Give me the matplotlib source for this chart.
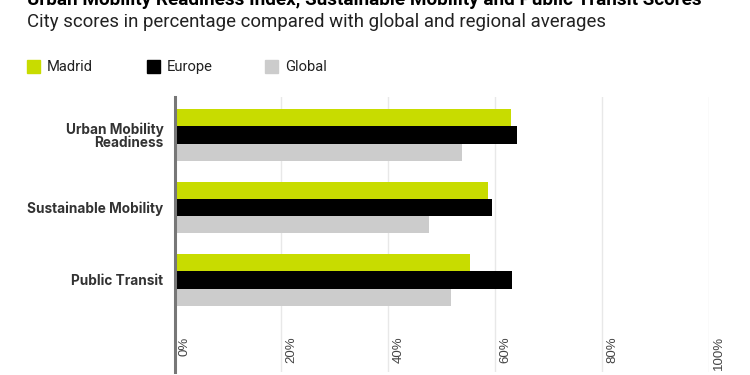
import matplotlib
matplotlib.use("Agg")
import matplotlib.pyplot as plt
import matplotlib.transforms as mtransforms
import numpy as np

categories = ["Urban Mobility\nReadiness", "Sustainable Mobility", "Public Transit"]
series_names = ["Madrid", "Europe", "Global"]
madrid = [63.0, 58.6, 55.2]
europe = [64.1, 59.4, 63.1]
glob = [53.8, 47.6, 51.7]
ticks = [0, 20, 40, 60, 80, 100]
tick_labels = ["0%", "20%", "40%", "60%", "80%", "100%"]

colors = ["#c8dc00", "#000000", "#cccccc"]

fig = plt.figure(figsize=(7.5, 3.75), dpi=100)
ax = fig.add_axes([0.2327, 0.008, 0.7126, 0.7333])

y = np.arange(len(categories))
h = 0.238
for i, (vals, c) in enumerate(zip([madrid, europe, glob], colors)):
    ax.barh(y + (i - 1) * h, vals, height=h, color=c, zorder=3)

ax.set_xlim(0, 100)
ax.set_ylim(3.27, -0.524)
ax.set_xticks(ticks)
ax.set_xticklabels([])
ax.tick_params(axis="x", length=0)
ax.grid(axis="x", color="#e8e8e8", linewidth=1.0, zorder=0)
ax.set_yticks(y)
ax.set_yticklabels(categories, fontsize=9.8, fontweight="bold", color="#333333",
                   family="Inter", linespacing=0.95)
ax.tick_params(axis="y", length=0, pad=8)
for s in ["top", "right", "bottom"]:
    ax.spines[s].set_visible(False)
ax.spines["left"].set_color("#777777")
ax.spines["left"].set_linewidth(2.2)
ax.spines["left"].set_zorder(4)

# x tick labels drawn inside the axes, rotated
trans = mtransforms.blended_transform_factory(ax.transData, ax.transAxes)
offset = mtransforms.ScaledTranslation(4 / 100, 0, fig.dpi_scale_trans)
for t, lab in zip(ticks, tick_labels):
    ax.text(t, 0.13, lab, transform=trans + offset, rotation=90, ha="left", va="top",
            fontsize=9.5, color="#444444", family="Liberation Sans")

# title (cut off at the top) and subtitle
fig.text(27 / 750, 1 - 5 / 375, "Urban Mobility Readiness Index, Sustainable Mobility and Public Transit Scores",
         fontsize=13.6, fontweight="bold", family="Roboto", va="baseline", ha="left")
fig.text(27 / 750, 1 - 27 / 375, "City scores in percentage compared with global and regional averages",
         fontsize=13.4, family="Roboto", color="#222222", va="baseline", ha="left")

# legend
leg_x = [27, 147, 265]
for lx, name, c in zip(leg_x, series_names, colors):
    fig.patches.append(plt.Rectangle((lx / 750, 1 - 73 / 375), 13 / 750, 13 / 375,
                                     transform=fig.transFigure, color=c, figure=fig))
    fig.text((lx + 20) / 750, 1 - 67 / 375, name, fontsize=10.6, family="Roboto",
             color="#222222", va="center", ha="left")

fig.savefig("out.png", dpi=100)
